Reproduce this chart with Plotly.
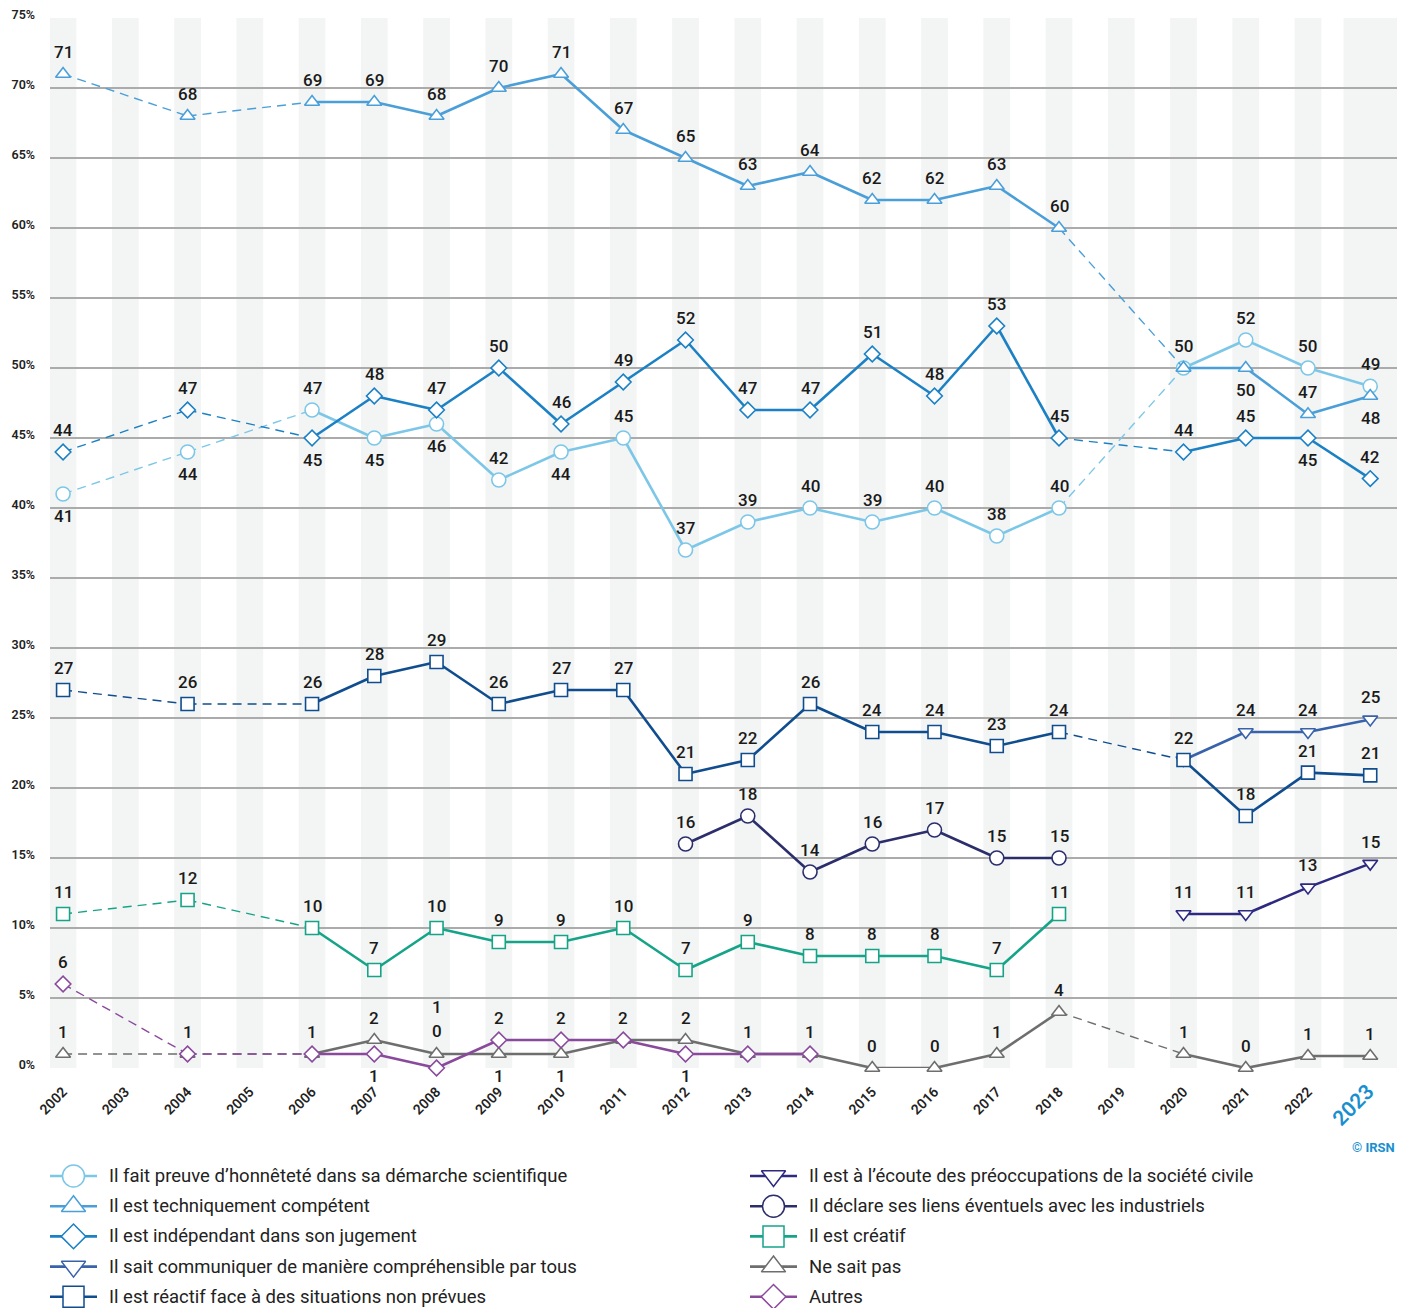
import plotly.graph_objects as go

# ---------------- DATA ----------------
years_main = [2002, 2004, 2006, 2007, 2008, 2009, 2010, 2011, 2012, 2013, 2014, 2015, 2016, 2017, 2018, 2020, 2021, 2022, 2023]
years_recent = [2020, 2021, 2022, 2023]
years_liens = [2012, 2013, 2014, 2015, 2016, 2017, 2018]
years_creatif = [2002, 2004, 2006, 2007, 2008, 2009, 2010, 2011, 2012, 2013, 2014, 2015, 2016, 2017, 2018]
years_autres = [2002, 2004, 2006, 2007, 2008, 2009, 2010, 2011, 2012, 2013, 2014]

honnetete = [41, 44, 47, 45, 46, 42, 44, 45, 37, 39, 40, 39, 40, 38, 40, 50, 52, 50, 48.7]
competent = [71, 68, 69, 69, 68, 70, 71, 67, 65, 63, 64, 62, 62, 63, 60, 50, 50, 46.7, 48]
independant = [44, 47, 45, 48, 47, 50, 46, 49, 52, 47, 47, 51, 48, 53, 45, 44, 45, 45, 42.1]
communiquer = [22, 24, 24, 24.9]
reactif = [27, 26, 26, 28, 29, 26, 27, 27, 21, 22, 26, 24, 24, 23, 24, 22, 18, 21.1, 20.9]
ecoute = [11, 11, 12.9, 14.6]
liens = [16, 18, 14, 16, 17, 15, 15]
creatif = [11, 12, 10, 7, 10, 9, 9, 10, 7, 9, 8, 8, 8, 7, 11]
ne_sait_pas = [1, 1, 1, 2, 1, 1, 1, 2, 2, 1, 1, 0, 0, 1, 4, 1, 0, 0.86, 0.86]
autres = [6, 1, 1, 1, 0, 2, 2, 2, 1, 1, 1]

names = [
    "Il fait preuve d’honnêteté dans sa démarche scientifique",
    "Il est techniquement compétent",
    "Il est indépendant dans son jugement",
    "Il sait communiquer de manière compréhensible par tous",
    "Il est réactif face à des situations non prévues",
    "Il est à l’écoute des préoccupations de la société civile",
    "Il déclare ses liens éventuels avec les industriels",
    "Il est créatif",
    "Ne sait pas",
    "Autres",
]
tick_years = list(range(2002, 2024))

# ---------------- STYLE ----------------
U, D = 22, -22
series = [
    (names[0], years_main, honnetete, "#7cc7e8", "circle", 14,
     [D, D, U, D, D, U, D, U, U, U, U, U, U, U, U, U, U, U, U]),
    (names[1], years_main, competent, "#4a9fd9", "triangle-up", 13,
     [U] * 15 + [None, D, U, D]),
    (names[2], years_main, independant, "#1b80c4", "diamond", 12,
     [U, U, D] + [U] * 14 + [D, U]),
    (names[3], years_recent, communiquer, "#3862aa", "triangle-down", 13,
     [None, U, U, U]),
    (names[4], years_main, reactif, "#0f4d8f", "square", 13,
     [U] * 19),
    (names[5], years_recent, ecoute, "#2d2a80", "triangle-down", 13,
     [U] * 4),
    (names[6], years_liens, liens, "#2b2e6b", "circle", 14,
     [U] * 7),
    (names[7], years_creatif, creatif, "#16a488", "square", 13,
     [U] * 15),
    (names[8], years_main, ne_sait_pas, "#6e6e6e", "triangle-up", 13,
     [U, U, U, U, 47, D, D, U, U] + [U] * 10),
    (names[9], years_autres, autres, "#8a4a9c", "diamond", 12,
     [U, None, None, D, 37, U, U, None, D, None, None]),
]

FONT = "Roboto, Arial, sans-serif"
W, H = 1405, 1308
ML, MR, MT = 50, 8, 18
PLOT_BOTTOM_PX = 1068          # pixel row of the 0 % gridline
main_domain_bottom = (H - PLOT_BOTTOM_PX) / (H - MT)
X_RANGE = [2001.79, 2023.43]

# custom legend layout (pixel units on an overlay axis)
LEG_COL_X = [50, 750]
LEG_ROW0, LEG_ROW_GAP = 1176, 30.2
LEG_LINE_LEN, LEG_TEXT_DX = 47, 57

fig = go.Figure()

# background stripes (the current year gets a wider band)
for yr in tick_years:
    if yr == tick_years[-1]:
        x0, x1 = yr - 0.43, X_RANGE[1]
    else:
        x0, x1 = yr - 0.215, yr + 0.215
    fig.add_shape(type="rect", xref="x", yref="y", x0=x0, x1=x1, y0=0, y1=75,
                  fillcolor="#f3f5f4", line_width=0, layer="below")

annotations = []
for i, (name, xs, ys, color, sym, msize, offs) in enumerate(series):
    sx, sy, dx, dy = [], [], [], []
    for j in range(len(xs) - 1):
        if xs[j + 1] - xs[j] == 1:
            sx += [xs[j], xs[j + 1], None]
            sy += [ys[j], ys[j + 1], None]
        else:
            dx += [xs[j], xs[j + 1], None]
            dy += [ys[j], ys[j + 1], None]
    if dx:
        fig.add_trace(go.Scatter(x=dx, y=dy, mode="lines", line=dict(color=color, width=1.4, dash="9px,6px"),
                                 showlegend=False, hoverinfo="skip", cliponaxis=False))
    if sx:
        fig.add_trace(go.Scatter(x=sx, y=sy, mode="lines", line=dict(color=color, width=2.6),
                                 showlegend=False, hoverinfo="skip", cliponaxis=False))
    fig.add_trace(go.Scatter(x=xs, y=ys, mode="markers", name=name, showlegend=False, cliponaxis=False,
                             marker=dict(symbol=sym, size=msize, color="white",
                                         line=dict(color=color, width=1.6))))
    for x, y, o in zip(xs, ys, offs):
        if o is None:
            continue
        annotations.append(dict(x=x, y=y, xref="x", yref="y", text=str(int(round(y))), showarrow=False,
                                yshift=o, font=dict(family=FONT, size=17, color="#1a1a1a", weight=500)))

    # custom legend entry
    col, row = divmod(i, 5)
    lx0 = LEG_COL_X[col]
    ly = LEG_ROW0 + row * LEG_ROW_GAP
    fig.add_trace(go.Scatter(x=[lx0, lx0 + LEG_LINE_LEN], y=[ly, ly], xaxis="x2", yaxis="y2", mode="lines",
                             line=dict(color=color, width=2.6), showlegend=False, hoverinfo="skip",
                             cliponaxis=False))
    fig.add_trace(go.Scatter(x=[lx0 + LEG_LINE_LEN / 2], y=[ly], xaxis="x2", yaxis="y2", mode="markers",
                             marker=dict(symbol=sym, size=msize + 8 if "diamond" not in sym else msize + 7,
                                         color="white", line=dict(color=color, width=1.5)),
                             showlegend=False, hoverinfo="skip", cliponaxis=False))
    annotations.append(dict(x=lx0 + LEG_TEXT_DX, y=ly, xref="x2", yref="y2", xanchor="left",
                            yanchor="middle", text=name, showarrow=False,
                            font=dict(family=FONT, size=18.5, color="#222")))

annotations.append(dict(x=1, y=1147, xref="paper", yref="y2", xanchor="right", yanchor="middle",
                        text="© IRSN", showarrow=False,
                        font=dict(family=FONT, size=13, color="#1a8fd0", weight=700)))

ticktext = [str(y) for y in tick_years[:-1]] + ['<span style="color:#1a8fd0;font-size:21px">2023</span>']

fig.update_layout(
    width=W, height=H,
    margin=dict(l=ML, r=MR, t=MT, b=0, autoexpand=False),
    plot_bgcolor="white", paper_bgcolor="white",
    font=dict(family=FONT, color="#222"),
    annotations=annotations,
    showlegend=False,
    xaxis=dict(range=X_RANGE, tickmode="array", tickvals=tick_years, ticktext=ticktext,
               tickangle=-45, showgrid=False, zeroline=False, showline=False, ticks="",
               automargin=False, ticklabelstandoff=12, anchor="y",
               tickfont=dict(family=FONT, size=14, color="#222", weight=600)),
    yaxis=dict(range=[0, 75], domain=[main_domain_bottom, 1], tickmode="array",
               tickvals=list(range(0, 80, 5)), anchor="x",
               ticktext=[f"{v}%" for v in range(0, 80, 5)], showgrid=True, gridcolor="#ababab",
               gridwidth=1.5, zeroline=False, showline=False, ticks="", ticklabelstandoff=14,
               automargin=False, ticklabelshift=-3,
               tickfont=dict(family=FONT, size=12.5, color="#222", weight=600)),
    xaxis2=dict(range=[ML, W - MR], domain=[0, 1], anchor="y2", visible=False, fixedrange=True),
    yaxis2=dict(range=[H, PLOT_BOTTOM_PX], domain=[0, main_domain_bottom], anchor="x2",
                visible=False, fixedrange=True),
    hovermode="closest",
)

fig.write_html("out.html", config={"displayModeBar": False},
               post_script="document.body.style.margin='0';document.body.style.overflow='hidden';")
